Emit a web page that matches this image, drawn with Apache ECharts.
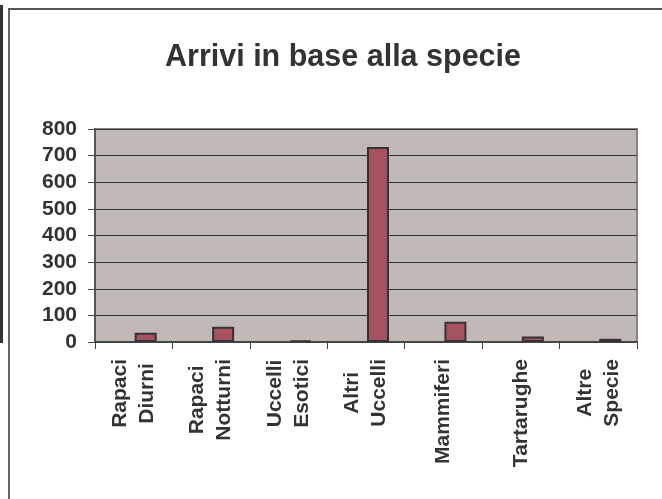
<!DOCTYPE html>
<html>
<head>
<meta charset="utf-8">
<script src="https://cdn.jsdelivr.net/npm/echarts@6/dist/echarts.min.js"></script>
<style>
  html, body { margin: 0; padding: 0; background: #fff; }
  #wrap { position: relative; width: 662px; height: 499px; overflow: hidden; }
  #chart { position: absolute; left: 0; top: 0; width: 662px; height: 499px; }
  .ln { position: absolute; }
</style>
</head>
<body>
<div id="wrap">
  <div id="chart"></div>
  <div class="ln" style="left:0;top:5px;width:3px;height:338px;background:#333;"></div>
  <div class="ln" style="left:8px;top:8px;width:2px;height:491px;background:#666;"></div>
  <div class="ln" style="left:8px;top:8px;width:654px;height:2px;background:#555;"></div>
</div>
<script>
const categories = ['Rapaci Diurni', 'Rapaci Notturni', 'Uccelli Esotici', 'Altri Uccelli', 'Mammiferi', 'Tartarughe', 'Altre Specie'];
const arrivi = [35, 57, 5, 732, 76, 21, 12];
const emptySeries = [null, null, null, null, null, null, null];
const yTicks = [0, 100, 200, 300, 400, 500, 600, 700, 800];

const chart = echarts.init(document.getElementById('chart'), null, { renderer: 'canvas' });
const txt = '#333';
chart.setOption({
  animation: false,
  backgroundColor: 'transparent',
  title: {
    text: 'Arrivi in base alla specie',
    left: 338, top: 37, textAlign: 'center',
    textStyle: { fontFamily: 'Liberation Sans, Arial, sans-serif', fontSize: 30.5, fontWeight: 'bold', color: txt }
  },
  grid: { left: 95, top: 129, right: 25, bottom: 157, show: true, backgroundColor: '#C1B9B6', borderColor: '#8C8482', borderWidth: 2 },
  xAxis: {
    type: 'category',
    data: categories,
    axisLine: { lineStyle: { color: '#444', width: 2 } },
    axisTick: { show: true, length: 7, lineStyle: { color: '#444', width: 1 } },
    axisLabel: {
      rotate: 90, margin: 17, interval: 0,
      formatter: v => v.split(' ').map(w => '{a|' + w + '}').join('\n'),
      rich: { a: { align: 'center', fontFamily: 'Liberation Sans, Arial, sans-serif', fontSize: 21, fontWeight: 'bold', color: txt, lineHeight: 27 } }
    }
  },
  yAxis: {
    type: 'value', min: 0, max: yTicks[yTicks.length - 1], interval: 100,
    axisLine: { show: true, lineStyle: { color: '#555', width: 2 } },
    axisTick: { show: true, length: 7, lineStyle: { color: '#444' } },
    splitLine: { lineStyle: { color: '#333', width: 1 } },
    axisLabel: { margin: 18, fontFamily: 'Liberation Sans, Arial, sans-serif', fontSize: 21, fontWeight: 'bold', color: txt }
  },
  series: [
    { type: 'bar', data: emptySeries, barWidth: 22, barGap: '9%' },
    { type: 'bar', data: arrivi, barWidth: 22, barGap: '9%',
      itemStyle: { color: '#A65260', borderColor: '#333', borderWidth: 2 } }
  ]
});
</script>
</body>
</html>
